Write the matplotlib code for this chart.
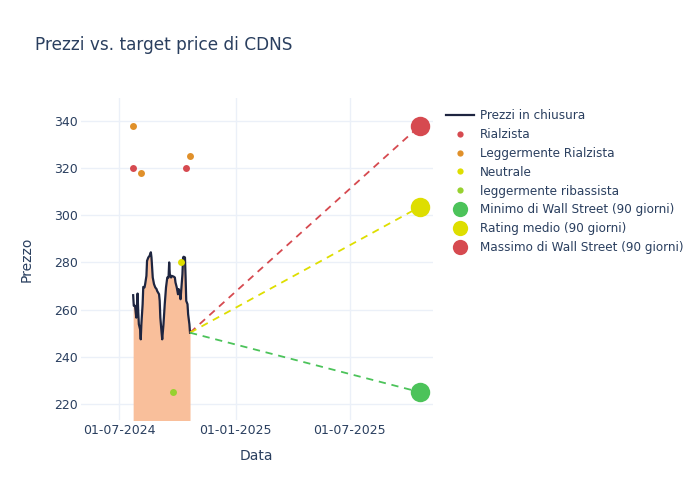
import matplotlib
matplotlib.use("Agg")
import matplotlib.pyplot as plt
import matplotlib.dates as mdates
import pandas as pd
from matplotlib.lines import Line2D

plt.rcParams['font.family'] = ['DejaVu Sans']

# Closing prices
price_dates = ["2024-07-23", "2024-07-24", "2024-07-26", "2024-07-28", "2024-07-30", "2024-07-31",
               "2024-08-01", "2024-08-03", "2024-08-04", "2024-08-05", "2024-08-07", "2024-08-08",
               "2024-08-10", "2024-08-11", "2024-08-13", "2024-08-14", "2024-08-16", "2024-08-18",
               "2024-08-20", "2024-08-21", "2024-08-22", "2024-08-23", "2024-08-25", "2024-08-27",
               "2024-08-29", "2024-08-30", "2024-09-02", "2024-09-03", "2024-09-04", "2024-09-06",
               "2024-09-07", "2024-09-09", "2024-09-11", "2024-09-13", "2024-09-15", "2024-09-17",
               "2024-09-18", "2024-09-19", "2024-09-21", "2024-09-22", "2024-09-25", "2024-09-27",
               "2024-09-28", "2024-09-30", "2024-10-02", "2024-10-03", "2024-10-05", "2024-10-06",
               "2024-10-07", "2024-10-09", "2024-10-10", "2024-10-11", "2024-10-13", "2024-10-14",
               "2024-10-15", "2024-10-17", "2024-10-18", "2024-10-20", "2024-10-21"]
prices = [266.1, 261.6, 261.6, 256.6, 266.8, 259.4,
          253.8, 251.6, 247.4, 253.8, 262.3, 269.6,
          269.4, 270.8, 274.3, 280.7, 282.1, 282.8,
          284.3, 282.1, 277.9, 273.6, 270.8, 269.4,
          268.7, 267.9, 266.5, 263.7, 256.6, 250.2,
          247.4, 253.8, 262.3, 269.4, 273.6, 273.6,
          280.0, 275.0, 273.6, 274.3, 274.0, 273.6,
          271.5, 269.4, 266.5, 268.7, 267.2, 264.4,
          268.0, 275.0, 282.1, 282.4, 282.1, 273.6,
          263.7, 262.3, 258.0, 253.8, 250.2]

# Analyst ratings
bull_dates = ["2024-07-22", "2024-10-14"]
bull_values = [320, 320]
slight_bull_dates = ["2024-07-22", "2024-08-05", "2024-10-21"]
slight_bull_values = [338, 318, 325]
neutral_dates = ["2024-10-06"]
neutral_values = [280]
slight_bear_dates = ["2024-09-24"]
slight_bear_values = [225]

# 90-day targets
target_date = "2025-10-20"
target_min = 225
target_avg = 303.6
target_max = 338

labels = ["Prezzi in chiusura", "Rialzista", "Leggermente Rialzista", "Neutrale",
          "leggermente ribassista", "Minimo di Wall Street (90 giorni)",
          "Rating medio (90 giorni)", "Massimo di Wall Street (90 giorni)"]

TXT = '#2a3f5f'
C_RED = '#d64a50'
C_ORANGE = '#e0902a'
C_YELLOW = '#dede00'
C_LGREEN = '#97d12f'
C_GREEN = '#4cc35a'
C_FILL = '#f9bf9b'
C_LINE = '#1e2540'

pd_dates = pd.to_datetime(price_dates)
fig = plt.figure(figsize=(7, 5), dpi=100)
ax = fig.add_axes([80.7 / 700, 80 / 500, (432.7 - 80.7) / 700, (420 - 98) / 500])

ymin, ymax = 213.2, 349.7
ax.fill_between(pd_dates, prices, ymin - 50, color=C_FILL, linewidth=0, zorder=2)
ax.plot(pd_dates, prices, color=C_LINE, linewidth=1.6, zorder=3)

last_d = pd_dates[-1]
last_p = prices[-1]
td = pd.to_datetime(target_date)
dash = (0, (4, 3.2))
ax.plot([last_d, td], [last_p, target_max], color=C_RED, linestyle=dash, linewidth=1.3, zorder=3)
ax.plot([last_d, td], [last_p, target_avg], color=C_YELLOW, linestyle=dash, linewidth=1.3, zorder=3)
ax.plot([last_d, td], [last_p, target_min], color=C_GREEN, linestyle=dash, linewidth=1.3, zorder=3)

ms = 5
ax.plot(pd.to_datetime(bull_dates), bull_values, 'o', color=C_RED, markersize=ms, zorder=4, markeredgewidth=0)
ax.plot(pd.to_datetime(slight_bull_dates), slight_bull_values, 'o', color=C_ORANGE, markersize=ms, zorder=4, markeredgewidth=0)
ax.plot(pd.to_datetime(neutral_dates), neutral_values, 'o', color=C_YELLOW, markersize=ms, zorder=4, markeredgewidth=0)
ax.plot(pd.to_datetime(slight_bear_dates), slight_bear_values, 'o', color=C_LGREEN, markersize=ms, zorder=4, markeredgewidth=0)

big = 14
ax.plot([td], [target_min], 'o', color=C_GREEN, markersize=big, zorder=5, markeredgewidth=0)
ax.plot([td], [target_avg], 'o', color=C_YELLOW, markersize=big, zorder=5, markeredgewidth=0)
ax.plot([td], [target_max], 'o', color=C_RED, markersize=big, zorder=5, markeredgewidth=0)

ax.set_ylim(ymin, ymax)
ax.set_xlim(pd.Timestamp("2024-05-01"), pd.Timestamp("2025-11-09"))
ax.set_yticks([220, 240, 260, 280, 300, 320, 340])
ax.set_xticks(pd.to_datetime(["2024-07-01", "2025-01-01", "2025-07-01"]))
ax.xaxis.set_major_formatter(mdates.DateFormatter('%d-%m-%Y'))
ax.grid(True, color='#ebf0f8', linewidth=1, zorder=0)
ax.set_axisbelow(True)
for s in ax.spines.values():
    s.set_visible(False)
ax.tick_params(axis='x', length=0, labelsize=9, colors=TXT, pad=3)
ax.tick_params(axis='y', length=0, labelsize=9, colors=TXT, pad=2)
ax.set_xlabel("Data", fontsize=10, color=TXT, labelpad=8.5)
ax.set_ylabel("Prezzo", fontsize=10, color=TXT, labelpad=14.5)

fig.text(35 / 700, 1 - 45 / 500, "Prezzi vs. target price di CDNS", fontsize=12.2, color=TXT, va='center', ha='left')

handles = [
    Line2D([], [], color=C_LINE, linewidth=1.6),
    Line2D([], [], marker='o', linestyle='', color=C_RED, markersize=4.5, markeredgewidth=0),
    Line2D([], [], marker='o', linestyle='', color=C_ORANGE, markersize=4.5, markeredgewidth=0),
    Line2D([], [], marker='o', linestyle='', color=C_YELLOW, markersize=4.5, markeredgewidth=0),
    Line2D([], [], marker='o', linestyle='', color=C_LGREEN, markersize=4.5, markeredgewidth=0),
    Line2D([], [], marker='o', linestyle='', color=C_GREEN, markersize=11, markeredgewidth=0),
    Line2D([], [], marker='o', linestyle='', color=C_YELLOW, markersize=11, markeredgewidth=0),
    Line2D([], [], marker='o', linestyle='', color=C_RED, markersize=11, markeredgewidth=0),
]
leg = fig.legend(handles, labels, loc='upper left', bbox_to_anchor=(446 / 700, 1 - 109 / 500),
                 frameon=False, fontsize=8.65, labelcolor=TXT, handlelength=2.35,
                 handletextpad=0.5, labelspacing=0.49, borderaxespad=0, borderpad=0)

fig.savefig("out.png", dpi=100)
